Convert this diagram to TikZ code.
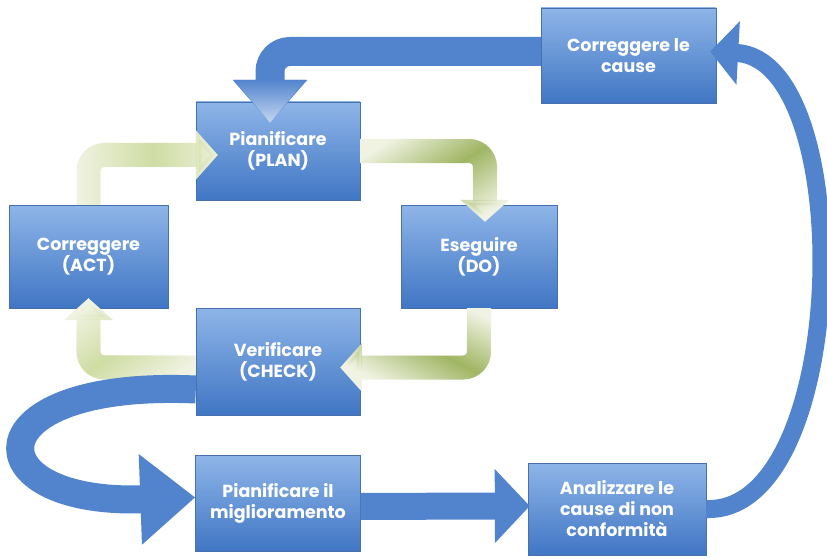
\documentclass[tikz,border=0pt]{standalone}
\usepackage{fontspec}
\setmainfont{Poppins}
\usetikzlibrary{arrows.meta,positioning,calc,fadings}

\definecolor{boxtop}{RGB}{142,181,232}
\definecolor{boxbot}{RGB}{64,118,196}
\definecolor{boxline}{RGB}{72,112,172}
\definecolor{blueflow}{RGB}{82,132,206}
\definecolor{headlight}{RGB}{198,215,240}
\definecolor{palegreen}{RGB}{240,243,226}
\definecolor{cycgreen}{RGB}{160,182,100}
\definecolor{lightgreen}{RGB}{208,221,164}

\tikzfading[name=midfade, left color=transparent!100, right color=transparent!100, middle color=transparent!0]

\begin{document}
\begin{tikzpicture}[
  x=1pt, y=-1pt,
  box/.style={draw=boxline, top color=boxtop, bottom color=boxbot, text=white, align=center, inner sep=0pt, font=\bfseries\fontsize{17.5}{21}\selectfont},
  pdca/.style={line width=24pt, rounded corners=16pt, draw=palegreen, -{Triangle[width=48pt,length=22pt]}},
  tint/.style={pdca, draw=cycgreen, path fading=midfade, fading angle=#1},
  flow/.style={line width=#1, draw=blueflow}
]
\useasboundingbox (0,0) rectangle (827,559);
\node[box, minimum width=175pt, minimum height=95pt] (cause) at (628.5,55.5) {Correggere le\\cause};
\node[box, minimum width=164pt, minimum height=98pt] (plan) at (278,151) {Pianificare\\(PLAN)};
\node[box, minimum width=159pt, minimum height=103pt] (act) at (88.5,256.5) {Correggere\\(ACT)};
\node[box, minimum width=156pt, minimum height=103pt] (do) at (479,256.5) {Eseguire\\(DO)};
\node[box, minimum width=164pt, minimum height=107pt] (check) at (278,361.5) {Verificare\\(CHECK)};
\node[box, minimum width=165pt, minimum height=96pt, below=40pt of check] (migl) {Pianificare il\\miglioramento};
\node[box, minimum width=178pt, minimum height=92pt] (anal) at (617,509) {Analizzare le\\cause di non\\conformità};
% ciclo PDCA
\draw[pdca] (act.north) |- ($(plan.west)+(22,4)$);
\draw[tint=0, draw=lightgreen] (act.north) |- ($(plan.west)+(22,4)$);
\draw[pdca] (plan.east) -| ($(do.north)+(6,17)$);
\draw[tint=-45] (plan.east) -| ($(do.north)+(6,17)$);
\draw[pdca] (do.south) |- ($(check.east)+(-20,6)$);
\draw[tint=45] (do.south) |- ($(check.east)+(-20,6)$);
\draw[pdca] ($(check.west)+(0,6)$) -| ($(act.south)+(0,-10)$);
\draw[tint=-45, draw=lightgreen] ($(check.west)+(0,6)$) -| ($(act.south)+(0,-10)$);
% miglioramento
\draw[flow=28pt, -{Triangle[width=87pt,length=55pt]}] ($(check.west)+(0,28)$) .. controls +(-226,-10) and +(-223,8) .. ($(migl.west)+(0,-6)$);
\draw[flow=27pt, -{Triangle[width=72pt,length=35pt]}] ($(migl.east)+(0,3)$) -- ($(anal.west)+(2,-3)$);
\draw[flow=18pt, -{Triangle[width=62pt,length=28pt]}] (anal.east) .. controls +(144,5) and +(148,8) .. ($(cause.east)+(-6,-4)$);
\draw[flow=29pt, rounded corners=20pt, -{Triangle[width=72pt,length=43pt]}] ($(cause.west)+(0,-4)$) -| ($(plan.north)+(-8,21)$);
\shade[top color=blueflow, bottom color=headlight] ($(plan.north)+(-44,-22)$) -- ($(plan.north)+(28,-22)$) -- ($(plan.north)+(-8,21)$) -- cycle;
\end{tikzpicture}
\end{document}
